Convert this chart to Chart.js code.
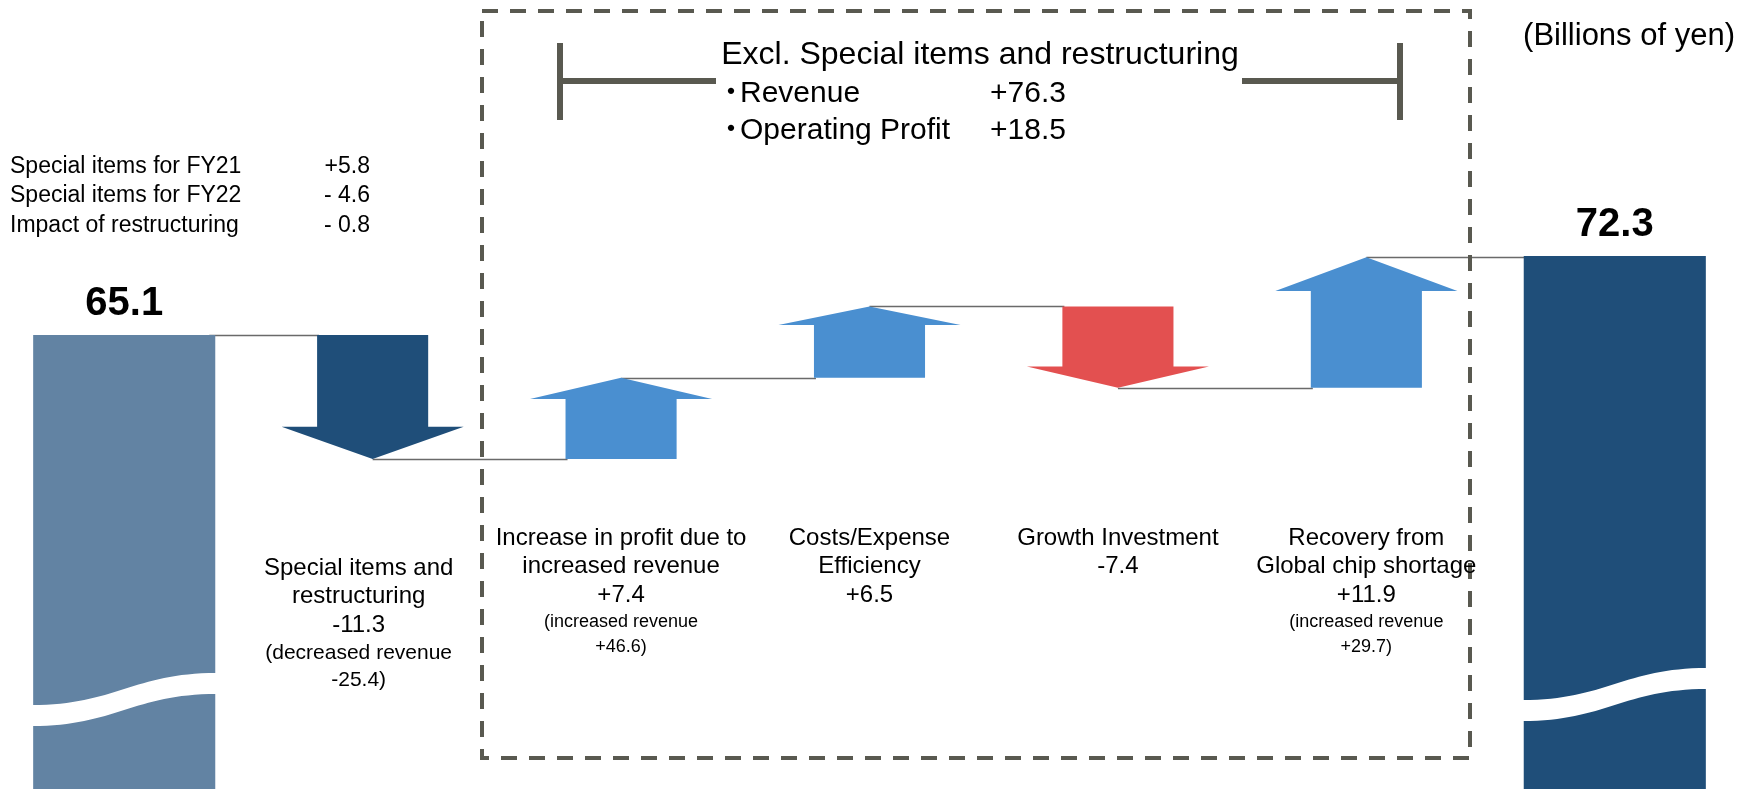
<!DOCTYPE html>
<html>
<head>
<meta charset="utf-8">
<script src="https://cdn.jsdelivr.net/npm/chart.js@4.4.1/dist/chart.umd.min.js"></script>
<style>
html,body{margin:0;padding:0;background:#fff;overflow:hidden}
#wrap{position:relative;width:1739px;height:789px}
#c{position:absolute;left:0;top:0}
.t{position:absolute;white-space:pre;font-family:"Liberation Sans",Arial,"Noto Sans CJK JP",sans-serif;color:#000}
</style>
</head>
<body>
<div id="wrap"><canvas id="c" width="1739" height="789"></canvas></div>
<script>
// ---------------- DATA ----------------
const categories = ['FY21', 'Special items and restructuring', 'Increase in profit due to increased revenue',
  'Costs/Expense Efficiency', 'Growth Investment', 'Recovery from Global chip shortage', 'FY22'];
const labelLines = [[], ['Special items and', 'restructuring'], ['Increase in profit due to', 'increased revenue'],
  ['Costs/Expense', 'Efficiency'], ['Growth Investment'], ['Recovery from', 'Global chip shortage'], []];
const totalValues = [65.1, null, null, null, null, null, 72.3];
const changeValues = [null, -11.3, 7.4, 6.5, -7.4, 11.9, null];
const revenueNoteLabels = [null, 'decreased revenue', 'increased revenue', null, null, 'increased revenue', null];
const revenueNoteValues = [null, -25.4, 46.6, null, null, 29.7, null];
const specialItemLabels = ['Special items for FY21', 'Special items for FY22', 'Impact of restructuring'];
const specialItemValues = ['+5.8', '- 4.6', '- 0.8'];
const exclTitle = 'Excl. Special items and restructuring';
const exclLabels = ['Revenue', 'Operating Profit'];
const exclValues = ['+76.3', '+18.5'];
const unitLabel = '(Billions of yen)';

// ---------------- STYLE ----------------
const style = {
  totalColors: ['#6283A3', null, null, null, null, null, '#1F4E79'],
  arrowColors: [null, '#1F4E79', '#4A8FD0', '#4A8FD0', '#E35050', '#4A8FD0', null],
  connector: '#6a6a6a',
  frame: '#595950'
};

// build floating ranges for the change arrows from the running total
const changeRanges = [];
const levels = [];
let running = totalValues[0];
for (let i = 0; i < categories.length; i++) {
  if (changeValues[i] !== null) {
    const end = Math.round((running + changeValues[i]) * 10) / 10;
    changeRanges.push([running, end]);
    running = end;
    levels.push(end);
  } else {
    changeRanges.push(null);
    levels.push(totalValues[i]);
  }
}

const SHAFT = 0.61;      // shaft width relative to head width
const HEAD = 0.26;       // head length relative to arrow length

const waterfallPlugin = {
  id: 'waterfall',
  beforeDatasetsDraw(chart) {
    const ctx = chart.ctx, xs = chart.scales.x, ys = chart.scales.y;
    const meta = chart.getDatasetMeta(1);
    const w = meta.data.find(e => e && !isNaN(e.x)).width;
    ctx.save();
    ctx.strokeStyle = style.connector;
    ctx.lineWidth = 1.5;
    for (let i = 0; i < categories.length - 1; i++) {
      const x0 = xs.getPixelForValue(i);
      const x1 = xs.getPixelForValue(i + 1);
      const srcX = totalValues[i] !== null ? x0 + w / 2 - 6 : x0;
      const tgtX = totalValues[i + 1] !== null ? x1 - w / 2 : x1 - w * SHAFT / 2;
      const y = Math.round(ys.getPixelForValue(levels[i])) + 0.5;
      ctx.beginPath();
      ctx.moveTo(srcX, y);
      ctx.lineTo(tgtX + 2, y);
      ctx.stroke();
    }
    ctx.restore();
  },
  afterDatasetsDraw(chart) {
    const ctx = chart.ctx, ys = chart.scales.y;
    const meta = chart.getDatasetMeta(1);
    ctx.save();
    // arrows
    meta.data.forEach((el, i) => {
      const r = changeRanges[i];
      if (!r) return;
      const x = el.x, hw = el.width / 2, sw = el.width * SHAFT / 2;
      const yb = ys.getPixelForValue(r[0]);
      const yt = ys.getPixelForValue(r[1]);
      const hl = (yt - yb) * HEAD;
      const yh = yt - hl;
      ctx.fillStyle = style.arrowColors[i];
      ctx.beginPath();
      ctx.moveTo(x - sw, yb);
      ctx.lineTo(x - sw, yh);
      ctx.lineTo(x - hw, yh);
      ctx.lineTo(x, yt);
      ctx.lineTo(x + hw, yh);
      ctx.lineTo(x + sw, yh);
      ctx.lineTo(x + sw, yb);
      ctx.closePath();
      ctx.fill();
    });
    // wave breaks on the total bars
    const tmeta = chart.getDatasetMeta(0);
    const bottom = chart.chartArea.bottom;
    tmeta.data.forEach((el, i) => {
      if (totalValues[i] === null) return;
      const L = el.x - el.width / 2, R = el.x + el.width / 2, W = el.width;
      const yl = bottom - (i === 0 ? 84 : 89), yr = yl - 32, th = 21;
      ctx.fillStyle = '#ffffff';
      ctx.beginPath();
      ctx.moveTo(L - 1, yl);
      ctx.bezierCurveTo(L + 0.45 * W, yl, L + 0.55 * W, yr, R + 1, yr);
      ctx.lineTo(R + 1, yr + th);
      ctx.bezierCurveTo(L + 0.55 * W, yr + th, L + 0.45 * W, yl + th, L - 1, yl + th);
      ctx.closePath();
      ctx.fill();
    });
    ctx.restore();
  },
  afterDraw(chart) {
    const ctx = chart.ctx;
    ctx.save();
    // dashed frame
    ctx.strokeStyle = style.frame;
    ctx.lineWidth = 4;
    ctx.setLineDash([16, 12]);
    ctx.strokeRect(482, 11, 988, 747);
    ctx.setLineDash([]);
    // bracket
    ctx.lineWidth = 6;
    ctx.beginPath();
    ctx.moveTo(560, 43); ctx.lineTo(560, 120);
    ctx.moveTo(1400, 43); ctx.lineTo(1400, 120);
    ctx.moveTo(560, 81); ctx.lineTo(716, 81);
    ctx.moveTo(1242, 81); ctx.lineTo(1400, 81);
    ctx.stroke();
    ctx.restore();
  }
};

const chart = new Chart(document.getElementById('c'), {
  type: 'bar',
  data: {
    labels: categories,
    datasets: [
      { label: 'Operating profit', data: totalValues, backgroundColor: style.totalColors, grouped: false,
        barPercentage: 0.733, categoryPercentage: 1.0 },
      { label: 'Change', data: changeRanges, backgroundColor: 'rgba(0,0,0,0)', grouped: false,
        barPercentage: 0.733, categoryPercentage: 1.0 }
    ]
  },
  options: {
    responsive: false,
    animation: false,
    layout: { padding: 0 },
    plugins: { legend: { display: false }, tooltip: { enabled: false } },
    scales: {
      x: { display: false, offset: true, grid: { display: false } },
      y: { display: false, min: 23.7, max: 95.65, grid: { display: false } }
    }
  },
  plugins: [waterfallPlugin]
});

// ---------------- TEXT (HTML) ----------------
const wrap = document.getElementById('wrap');
function addText(str, x, baseline, size, opts) {
  opts = opts || {};
  const d = document.createElement('div');
  d.className = 't';
  d.textContent = str;
  d.style.fontSize = size + 'px';
  d.style.lineHeight = size + 'px';
  d.style.fontWeight = opts.bold ? '700' : '400';
  d.style.top = (baseline - 0.8465 * size) + 'px';
  d.style.left = x + 'px';
  if (opts.align === 'center') d.style.transform = 'translateX(-50%)';
  else if (opts.align === 'right') d.style.transform = 'translateX(-100%)';
  wrap.appendChild(d);
  return d;
}
const fmt = v => (v > 0 ? '+' : '') + v.toFixed(1);

const xs = chart.scales.x, ys = chart.scales.y;
// totals
totalValues.forEach((v, i) => {
  if (v === null) return;
  addText(v.toFixed(1), xs.getPixelForValue(i), ys.getPixelForValue(v) - 20, 40, { bold: true, align: 'center' });
});
// category labels
categories.forEach((c, i) => {
  if (changeValues[i] === null) return;
  const special = (i === 1);
  const x = xs.getPixelForValue(i) - (special ? 14 : 0);
  let b = special ? 575 : 545;
  labelLines[i].forEach(line => { addText(line, x, b, 24, { align: 'center' }); b += 28.5; });
  addText(fmt(changeValues[i]), x, b, 24, { align: 'center' });
  if (revenueNoteLabels[i]) {
    const sub = special ? 21 : 18;
    const step = special ? 27 : 25;
    b += step;
    addText('(' + revenueNoteLabels[i], x, b, sub, { align: 'center' });
    b += step;
    addText(fmt(revenueNoteValues[i]) + ')', x, b, sub, { align: 'center' });
  }
});
// special items block
specialItemLabels.forEach((s, k) => {
  const b = 173 + k * 29.5;
  addText(s, 10, b, 23);
  addText(specialItemValues[k], 370, b, 23, { align: 'right' });
});
// excl block
addText(exclTitle, 980, 64, 32, { align: 'center' });
exclLabels.forEach((s, k) => {
  const b = 102 + k * 37;
  const d = addText('', 716, b, 30);
  const dot = document.createElement('span');
  dot.textContent = '・';
  dot.style.marginRight = '-6px';
  d.appendChild(dot);
  d.appendChild(document.createTextNode(s));
  addText(exclValues[k], 990, b, 30);
});
// unit
addText(unitLabel, 1735, 45, 31, { align: 'right' });
</script>
</body>
</html>
